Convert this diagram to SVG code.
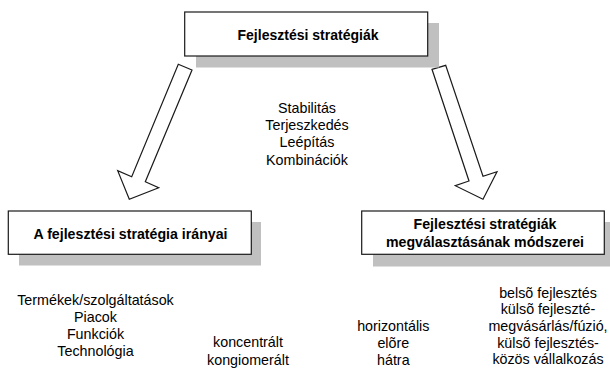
<svg xmlns="http://www.w3.org/2000/svg" width="610" height="370" viewBox="0 0 610 370">
<style>
.shadow{fill:#c0c0c0;stroke:none}
.box{fill:#ffffff;stroke:#1a1a1a;stroke-width:1.2}
.title{font-family:"Liberation Sans",Arial,sans-serif;font-size:15px;font-weight:bold;fill:#000;text-anchor:middle}
.txt{font-family:"Liberation Sans",Arial,sans-serif;font-size:14.3px;fill:#000;text-anchor:middle}
.arrow{fill:#ffffff;stroke:#1a1a1a;stroke-width:1.2;stroke-linejoin:miter}
</style>
<rect width="610" height="370" fill="#ffffff"/>
<g id="connectors">
<polygon class="arrow" points="178.3,64.3 192,70 145.3,181.7 158.7,187.7 129.3,199.3 117.7,170.7 131.7,176.7"/>
<polygon class="arrow" points="432,69.3 445.7,65.3 483,176.3 497,171.7 483,199.3 455.3,185.7 469,181"/>
</g>
<g id="node-top">
<rect class="shadow" x="196" y="23" width="243" height="44.5"/>
<rect class="box" x="184.7" y="12" width="243" height="44"/>
<text class="title" x="308" y="40" textLength="141" lengthAdjust="spacingAndGlyphs">Fejlesztési stratégiák</text>
</g>
<g id="node-left">
<rect class="shadow" x="19" y="222" width="242" height="43.5"/>
<rect class="box" x="8.3" y="211" width="243" height="43.3"/>
<text class="title" x="130.5" y="238.5" textLength="194" lengthAdjust="spacingAndGlyphs">A fejlesztési stratégia irányai</text>
</g>
<g id="node-right">
<rect class="shadow" x="373" y="222" width="245" height="44.5"/>
<rect class="box" x="361.7" y="211" width="242.6" height="43.3"/>
<text class="title" x="485" y="228.5" textLength="143" lengthAdjust="spacingAndGlyphs">Fejlesztési stratégiák</text>
<text class="title" x="485" y="247" textLength="198" lengthAdjust="spacingAndGlyphs">megválasztásának módszerei</text>
</g>
<g id="text-middle">
<text class="txt" x="307" y="112.7">Stabilitás</text>
<text class="txt" x="307" y="130">Terjeszkedés</text>
<text class="txt" x="307" y="147.3">Leépítás</text>
<text class="txt" x="307" y="164.7">Kombinációk</text>
</g>
<g id="text-left">
<text class="txt" x="95.5" y="304.5">Termékek/szolgáltatások</text>
<text class="txt" x="95.5" y="321.8">Piacok</text>
<text class="txt" x="95.5" y="339.1">Funkciók</text>
<text class="txt" x="95.5" y="356.4">Technológia</text>
</g>
<g id="text-mid-bottom">
<text class="txt" x="248" y="347">koncentrált</text>
<text class="txt" x="248" y="364.5">kongiomerált</text>
</g>
<g id="text-right1">
<text class="txt" x="393.3" y="330.5">horizontális</text>
<text class="txt" x="393.3" y="347.5">elõre</text>
<text class="txt" x="393.3" y="364.5">hátra</text>
</g>
<g id="text-right2">
<text class="txt" x="548" y="297.7">belsõ fejlesztés</text>
<text class="txt" x="548" y="314.4">külsõ fejleszté-</text>
<text class="txt" x="548" y="331">megvásárlás/fúzió,</text>
<text class="txt" x="548" y="347.7">külsõ fejlesztés-</text>
<text class="txt" x="548" y="364.4">közös vállalkozás</text>
</g>
</svg>
